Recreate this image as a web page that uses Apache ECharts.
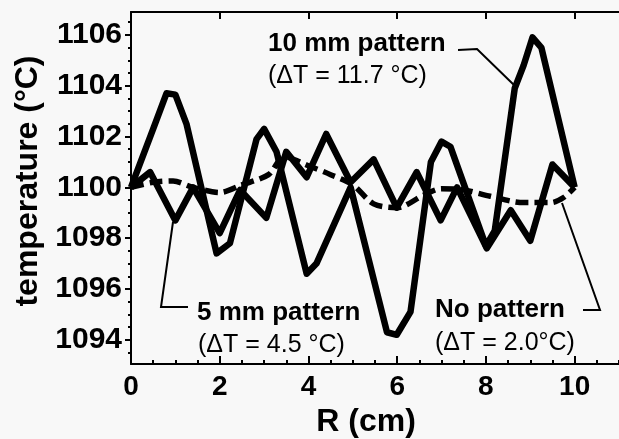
<!DOCTYPE html>
<html>
<head>
<meta charset="utf-8">
<script src="https://cdn.jsdelivr.net/npm/echarts@6/dist/echarts.min.js"></script>
<style>
html,body{margin:0;padding:0;background:#f8f8f8;}
#main{width:619px;height:439px;}
</style>
</head>
<body>
<div id="main"></div>
<script>
// R (cm) / temperature (°C)
var r10 = [0, 0.5, 0.8, 1.0, 1.25, 1.93, 2.23, 2.83, 3.0, 3.28, 3.96, 4.18, 4.95, 5.77, 5.99, 6.3, 6.76, 7.0, 7.2, 8.0, 8.2, 8.65, 8.85, 9.05, 9.25, 10.0];
var t10 = [1100.0, 1102.3, 1103.7, 1103.65, 1102.5, 1097.4, 1097.8, 1101.9, 1102.3, 1101.4, 1096.6, 1097.0, 1100.0, 1094.3, 1094.2, 1095.1, 1101.0, 1101.8, 1101.6, 1097.7, 1098.3, 1103.9, 1104.8, 1105.9, 1105.5, 1100.0];

var r5 = [0, 0.43, 1.0, 1.4, 2.0, 2.46, 3.05, 3.5, 3.96, 4.4, 4.95, 5.47, 5.99, 6.44, 6.98, 7.35, 8.02, 8.56, 9.0, 9.5, 10.0];
var t5 = [1100.0, 1100.6, 1098.7, 1100.0, 1098.2, 1099.9, 1098.8, 1101.4, 1100.4, 1102.1, 1100.2, 1101.1, 1099.2, 1100.6, 1098.7, 1100.0, 1097.6, 1099.1, 1097.9, 1100.9, 1100.0];

var r0 = [0, 0.5, 0.95, 1.4, 2.0, 2.5, 3.1, 3.45, 4.0, 4.5, 5.0, 5.47, 6.0, 6.6, 7.0, 7.5, 8.1, 8.85, 9.47, 9.75, 10.0];
var t0 = [1100.0, 1100.2, 1100.25, 1100.0, 1099.8, 1100.1, 1100.5, 1101.2, 1100.85, 1100.5, 1100.1, 1099.35, 1099.2, 1099.7, 1099.95, 1099.9, 1099.65, 1099.4, 1099.4, 1099.6, 1100.0];

var xTicks = [0, 2, 4, 6, 8, 10];
var xMinor = [];
for (var i = 0; i <= 22; i++) xMinor.push(i * 0.5);
var yTicks = [1094, 1096, 1098, 1100, 1102, 1104, 1106];
var yMinor = [];
for (var j = 0; j <= 27; j++) yMinor.push(1093.5 + j * 0.5);

function pairs(xs, ys) {
	var out = [];
	for (var k = 0; k < xs.length; k++) out.push([xs[k], ys[k]]);
	return out;
}

var font = '"Liberation Sans", Arial, sans-serif';
var ink = '#000';
var plain = function (v) { return String(v); };

var myChart = echarts.init(document.getElementById('main'));
var option = {
	backgroundColor: '#f8f8f8',
	animation: false,
	grid: { left: 131, right: 0, top: 12, bottom: 75 },
	xAxis: [
		{
			type: 'value', position: 'bottom', min: 0, max: 11,
			axisLine: { lineStyle: { color: ink, width: 2 } },
			axisTick: { inside: true, length: 8, customValues: xTicks, lineStyle: { color: ink, width: 2 } },
			axisLabel: { customValues: xTicks, formatter: plain, color: ink, fontFamily: font, fontWeight: 'bold', fontSize: 28, margin: 9 },
			splitLine: { show: false }
		},
		{
			type: 'value', position: 'bottom', min: 0, max: 11,
			axisLine: { show: false },
			axisTick: { inside: true, length: 4, customValues: xMinor, lineStyle: { color: ink, width: 2 } },
			axisLabel: { show: false },
			splitLine: { show: false }
		},
		{
			type: 'value', position: 'top', min: 0, max: 11,
			axisLine: { lineStyle: { color: ink, width: 2 } },
			axisTick: { inside: true, length: 7, customValues: xTicks, lineStyle: { color: ink, width: 2 } },
			axisLabel: { show: false },
			splitLine: { show: false }
		}
	],
	yAxis: [
		{
			type: 'value', position: 'left', min: 1093.05, max: 1106.9,
			axisLine: { lineStyle: { color: ink, width: 2 } },
			axisTick: { length: 6, customValues: yTicks, lineStyle: { color: ink, width: 2 } },
			axisLabel: { customValues: yTicks, formatter: plain, color: ink, fontFamily: font, fontWeight: 'bold', fontSize: 30, margin: 9 },
			splitLine: { show: false }
		},
		{
			type: 'value', position: 'left', min: 1093.05, max: 1106.9,
			axisLine: { show: false },
			axisTick: { length: 3, customValues: yMinor, lineStyle: { color: ink, width: 2 } },
			axisLabel: { show: false },
			splitLine: { show: false }
		}
	],
	series: [
		{
			name: '10 mm pattern', type: 'line', data: pairs(r10, t10), showSymbol: false,
			lineStyle: { color: ink, width: 6.5, join: 'round' }
		},
		{
			name: '5 mm pattern', type: 'line', data: pairs(r5, t5), showSymbol: false,
			lineStyle: { color: ink, width: 6.5, join: 'round' }
		},
		{
			name: 'No pattern', type: 'line', data: pairs(r0, t0), showSymbol: false, smooth: 0.3,
			lineStyle: { color: ink, width: 5.5, type: [13, 6] }
		}
	],
	graphic: [
		{ type: 'text', x: 268, y: 44, style: { text: '10 mm pattern', fill: ink, font: 'bold 26px ' + font, verticalAlign: 'middle' } },
		{ type: 'text', x: 268, y: 76, style: { text: '(ΔT = 11.7 °C)', fill: ink, font: '25px ' + font, verticalAlign: 'middle' } },
		{ type: 'polyline', shape: { points: [[458, 50], [477, 49], [515, 86]] }, style: { stroke: ink, lineWidth: 2, fill: null } },

		{ type: 'text', x: 197, y: 313, style: { text: '5 mm pattern', fill: ink, font: 'bold 26px ' + font, verticalAlign: 'middle' } },
		{ type: 'text', x: 198, y: 345, style: { text: '(ΔT = 4.5 °C)', fill: ink, font: '25px ' + font, verticalAlign: 'middle' } },
		{ type: 'polyline', shape: { points: [[173, 222], [161, 307], [188, 307]] }, style: { stroke: ink, lineWidth: 2, fill: null } },

		{ type: 'text', x: 435, y: 310, style: { text: 'No pattern', fill: ink, font: 'bold 26px ' + font, verticalAlign: 'middle' } },
		{ type: 'text', x: 435, y: 343, style: { text: '(ΔT = 2.0°C)', fill: ink, font: '25px ' + font, verticalAlign: 'middle' } },
		{ type: 'polyline', shape: { points: [[562, 203], [600, 310], [583, 310]] }, style: { stroke: ink, lineWidth: 2, fill: null } },

		{ type: 'text', x: 366, y: 422, style: { text: 'R (cm)', fill: ink, font: 'bold 32px ' + font, align: 'center', verticalAlign: 'middle' } },
		{ type: 'text', x: 28, y: 181, rotation: Math.PI / 2, style: { text: 'temperature (°C)', fill: ink, font: 'bold 32px ' + font, align: 'center', verticalAlign: 'middle' } }
	]
};
if (option && typeof option === "object") {
	myChart.setOption(option, true);
}
</script>
</body>
</html>
